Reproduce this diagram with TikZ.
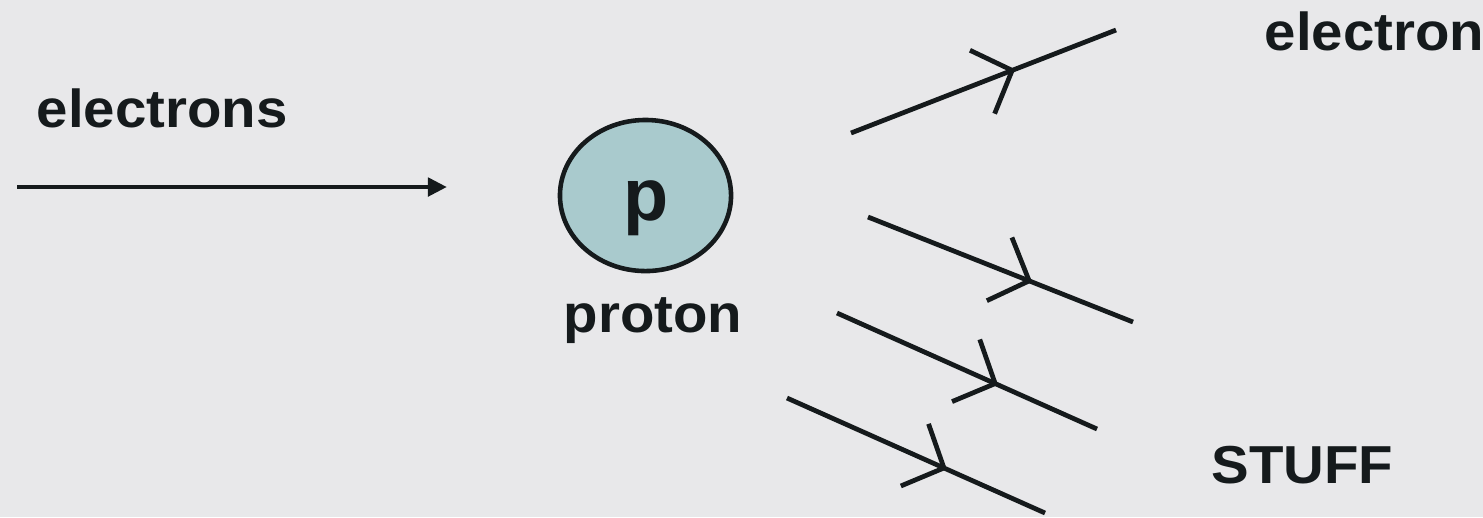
\documentclass[tikz,border=0pt]{standalone}
\usepackage{fontspec}
\setmainfont{Liberation Sans}
\usetikzlibrary{arrows.meta,decorations.markings,shapes.geometric}
\definecolor{bgGray}{HTML}{E8E8EA}
\definecolor{protonFill}{HTML}{A9CACD}
\definecolor{inkDark}{HTML}{151A1C}
\newcommand{\widelbl}[1]{\scalebox{1.055}[1]{#1}}

\begin{document}
\begin{tikzpicture}[x=0.01cm,y=-0.01cm,
  lbl/.style={font=\fontsize{15.2}{18}\bfseries\selectfont,text=inkDark,inner sep=0pt},
  track/.style={line width=1.35pt,draw=inkDark,postaction={decorate},
    decoration={markings,mark=at position 0.62 with {\arrow{Straight Barb[length=0.32cm,width=0.68cm]}}}}]
\fill[bgGray] (0,0) rectangle (1483,517);
\useasboundingbox (0,0) rectangle (1483,517);
% incoming beam
\node[lbl,anchor=base west] (beamlbl) at (36,127) {\widelbl{electrons}};
\coordinate (beamstart) at (17,187);
\coordinate (beamend) at (447,187);
\draw[line width=1.35pt,draw=inkDark,-{Triangle[length=0.19cm,width=0.18cm]}] (beamstart) -- (beamend);
% target
\node[ellipse,draw=inkDark,fill=protonFill,line width=1.3pt,inner sep=0pt,
  minimum width=1.71cm,minimum height=1.51cm] (proton) at (645.5,195.5) {};
\node[font=\fontsize{21}{24}\bfseries\selectfont,text=inkDark,inner sep=0pt] (plbl) at (646,208.5) {p};
\node[lbl,anchor=base] (protonlbl) at (653,332) {\widelbl{proton}};
% outgoing tracks
\coordinate (t1a) at (851,133); \coordinate (t1b) at (1116,30);
\coordinate (t2a) at (868,217); \coordinate (t2b) at (1133,322);
\coordinate (t3a) at (837,313); \coordinate (t3b) at (1097,429);
\coordinate (t4a) at (787,398); \coordinate (t4b) at (1045,513);
\draw[track] (t1a) -- (t1b);
\draw[track] (t2a) -- (t2b);
\draw[track] (t3a) -- (t3b);
\draw[track] (t4a) -- (t4b);
\node[lbl,anchor=base west] (elbl) at (1264,50) {\widelbl{electron}};
\node[lbl,anchor=base west] (stufflbl) at (1211,483) {\widelbl{STUFF}};
\end{tikzpicture}
\end{document}
